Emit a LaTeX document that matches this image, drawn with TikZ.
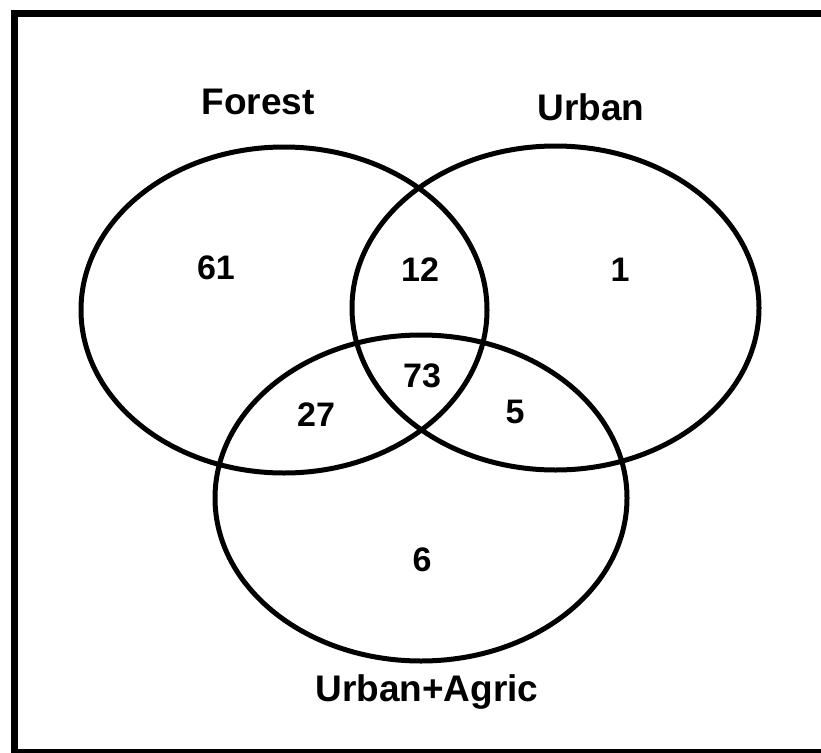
\documentclass[tikz,border=0pt]{standalone}
\usepackage{fontspec}
\setmainfont{Liberation Sans}
\begin{document}
\begin{tikzpicture}[x=1pt,y=-1pt,
  setline/.style={line width=5pt},
  setlabel/.style={font=\fontsize{37}{40}\selectfont\bfseries, inner sep=0pt},
  countlabel/.style={font=\fontsize{34}{37}\selectfont\bfseries, inner sep=0pt}]
\useasboundingbox (0,0) rectangle (821,752);
\begin{scope}
\clip (0,0) rectangle (821,752);
\draw[line width=7pt] (14.5,14) rectangle (830,752.5);
\end{scope}
\draw[setline] (284,310) ellipse [x radius=203, y radius=163];
\draw[setline] (555.5,308) ellipse [x radius=203.5, y radius=162];
\draw[setline] (421,498) ellipse [x radius=206, y radius=163];
\node[setlabel] (forest) at (258,102) {Forest};
\node[setlabel] (urban) at (591,107) {Urban};
\node[setlabel] (agric) at (427,692) {Urban+Agric};
\node[countlabel] (n61) at (216,268) {61};
\node[countlabel] (n12) at (420,270) {12};
\node[countlabel] (n1) at (620,270) {1};
\node[countlabel] (n73) at (422,376) {73};
\node[countlabel] (n27) at (316,415) {27};
\node[countlabel] (n5) at (515,412) {5};
\node[countlabel] (n6) at (422,560) {6};
\end{tikzpicture}
\end{document}
